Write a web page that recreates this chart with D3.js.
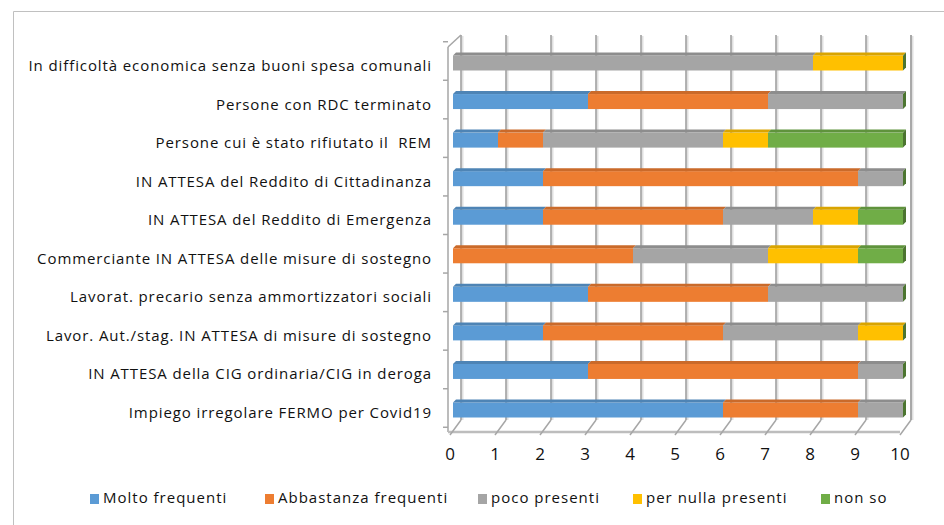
<!DOCTYPE html>
<html>
<head>
<meta charset="utf-8">
<script src="https://cdn.jsdelivr.net/npm/d3@7"></script>
<style>
  html, body { margin: 0; padding: 0; background: #fff; }
  svg { display: block; }
  text { white-space: pre; }
</style>
</head>
<body>
<svg id="chart" width="944" height="525" font-family="Open Sans, sans-serif"></svg>
<script>
// categories, top to bottom as shown
const categories = [
  'In difficoltà economica senza buoni spesa comunali',
  'Persone con RDC terminato',
  'Persone cui è stato rifiutato il  REM',
  'IN ATTESA del Reddito di Cittadinanza',
  'IN ATTESA del Reddito di Emergenza',
  'Commerciante IN ATTESA delle misure di sostegno',
  'Lavorat. precario senza ammortizzatori sociali',
  'Lavor. Aut./stag. IN ATTESA di misure di sostegno',
  'IN ATTESA della CIG ordinaria/CIG in deroga',
  'Impiego irregolare FERMO per Covid19'
];
const seriesNames = ['Molto frequenti', 'Abbastanza frequenti', 'poco presenti', 'per nulla presenti', 'non so'];
const molto      = [0, 3, 1, 2, 2, 0, 3, 2, 3, 6];
const abbastanza = [0, 4, 1, 7, 4, 4, 4, 4, 6, 3];
const poco       = [8, 3, 4, 1, 2, 3, 3, 3, 1, 1];
const nulla      = [2, 0, 1, 0, 1, 2, 0, 1, 0, 0];
const nonSo      = [0, 0, 3, 0, 1, 1, 0, 0, 0, 0];
const xTicks = [0, 1, 2, 3, 4, 5, 6, 7, 8, 9, 10];
const colors = ['#5B9BD5', '#ED7D31', '#A5A5A5', '#FFC000', '#70AD47'];

const svg = d3.select('#chart');

// outer chart border (only top and left visible)
svg.append('path')
  .attr('d', 'M13.5,525 L13.5,11.5 L944,11.5')
  .attr('fill', 'none').attr('stroke', '#c0c0c0').attr('stroke-width', 1);

const x = d3.scaleLinear().domain([0, 10]).range([450, 900]);
const y = d3.scalePoint().domain(categories).range([63, 410]);
const depthX = 11, depthY = 12;      // wall depth
const frontTop = 47, frontBottom = 432;
const barH = 15, barDX = 3, barDY = 3, barShift = 3;

// back wall gridlines with shadow
const grid = svg.append('g');
xTicks.forEach(t => {
  const gx = x(t) + depthX;
  grid.append('line').attr('x1', gx + 1.5).attr('x2', gx + 1.5)
    .attr('y1', frontTop - depthY + 1).attr('y2', frontBottom - depthY)
    .attr('stroke', '#e0e0e0').attr('stroke-width', 2);
  grid.append('line').attr('x1', gx).attr('x2', gx)
    .attr('y1', frontTop - depthY).attr('y2', frontBottom - depthY)
    .attr('stroke', '#9a9a9a').attr('stroke-width', 1.5);
});

// left wall edge + top corner
const wall = svg.append('g').attr('stroke', '#a6a6a6').attr('fill', 'none').attr('stroke-width', 1.5);
wall.append('line').attr('x1', x(0) - 2).attr('x2', x(0) - 2).attr('y1', frontTop).attr('y2', frontBottom);
wall.append('line').attr('x1', x(0) - 2).attr('x2', x(0) + depthX).attr('y1', frontTop).attr('y2', frontTop - depthY);
// category boundary ticks on the left wall
const step = y.step();
d3.range(categories.length + 1).forEach(i => {
  const ty = y(categories[0]) - step / 2 + i * step - 2;
  wall.append('line').attr('x1', x(0) - 7).attr('x2', x(0) - 2).attr('y1', ty).attr('y2', ty);
});

// floor
const floor = svg.append('g').attr('stroke', '#a6a6a6').attr('fill', 'none').attr('stroke-width', 1.5);
floor.append('line').attr('x1', x(0) - 2).attr('x2', x(10)).attr('y1', frontBottom).attr('y2', frontBottom)
  .attr('stroke-width', 2.5).attr('stroke', '#bdbdbd');
xTicks.forEach(t => {
  floor.append('line').attr('x1', x(t)).attr('y1', frontBottom + 3)
    .attr('x2', x(t) + depthX).attr('y2', frontBottom - depthY);
});
// right wall edge
floor.append('line').attr('x1', x(10) + depthX).attr('x2', x(10) + depthX)
  .attr('y1', frontTop - depthY).attr('y2', frontBottom - depthY);

// stacked 3D bars
const rows = categories.map((c, i) => ({
  cat: c, s0: molto[i], s1: abbastanza[i], s2: poco[i], s3: nulla[i], s4: nonSo[i]
}));
const stack = d3.stack().keys(['s0', 's1', 's2', 's3', 's4']);
const layers = stack(rows);
const bx = v => x(v) + barShift;

const bars = svg.append('g');
layers.forEach((layer, k) => {
  const c = d3.color(colors[k]);
  const g = bars.append('g');
  layer.forEach(d => {
    const x0 = bx(d[0]), x1 = bx(d[1]);
    const yc = y(d.data.cat), yt = yc - barH / 2, yb = yc + barH / 2;
    if (d[1] - d[0] > 0) {
      g.append('rect').attr('x', x0).attr('y', yt).attr('width', x1 - x0).attr('height', barH)
        .attr('fill', colors[k]);
      g.append('path')
        .attr('d', `M${x0},${yt} L${x1},${yt} L${x1 + barDX},${yt - barDY} L${x0 + barDX},${yt - barDY} Z`)
        .attr('fill', c.darker(0.45));
    }
    // end face of the last series is drawn on every bar
    if (k === layers.length - 1) {
      g.append('path')
        .attr('d', `M${x1},${yt} L${x1 + barDX},${yt - barDY} L${x1 + barDX},${yb - barDY} L${x1},${yb} Z`)
        .attr('fill', c.darker(1.1));
    }
  });
});

// category labels
svg.append('g').selectAll('text').data(categories).join('text')
  .attr('x', 432).attr('y', d => y(d) + 4)
  .attr('text-anchor', 'end').attr('dominant-baseline', 'middle')
  .attr('font-size', 15).attr('letter-spacing', 0.9).attr('fill', '#111')
  .text(d => d);

// x tick labels
svg.append('g').selectAll('text').data(xTicks).join('text')
  .attr('x', d => x(d)).attr('y', 455)
  .attr('text-anchor', 'middle').attr('dominant-baseline', 'middle')
  .attr('font-size', 17).attr('fill', '#111')
  .text(d => d);

// legend
const legendX = [90, 265, 478, 633, 821];
const legend = svg.append('g');
seriesNames.forEach((name, i) => {
  legend.append('rect').attr('x', legendX[i]).attr('y', 494).attr('width', 9).attr('height', 10)
    .attr('fill', colors[i]);
  legend.append('text').attr('x', legendX[i] + 13).attr('y', 499)
    .attr('dominant-baseline', 'middle').attr('font-size', 15).attr('letter-spacing', 1)
    .attr('fill', '#111')
    .text(name);
});
</script>
</body>
</html>
